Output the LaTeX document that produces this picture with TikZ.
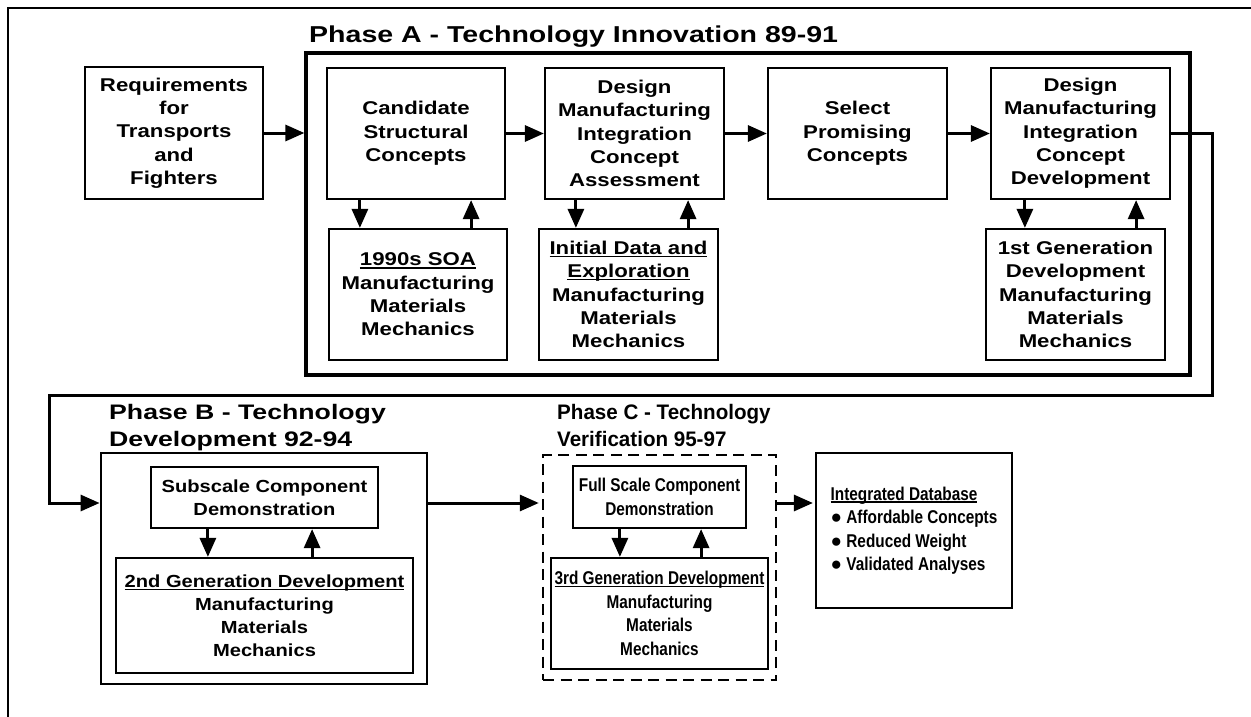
\documentclass[tikz,border=0pt]{standalone}
\usepackage{fontspec}
\setmainfont{Liberation Sans}
\newfontfamily\fA{Liberation Sans}[FakeStretch=1.2]
\newfontfamily\fB{Liberation Sans}[FakeStretch=1.15]
\newfontfamily\fC{Liberation Sans}[FakeStretch=0.83]
\newfontfamily\fTA{Liberation Sans}[FakeStretch=1.24]
\newfontfamily\fTB{Liberation Sans}[FakeStretch=1.27]
\newfontfamily\fTC{Liberation Sans}[FakeStretch=0.98]
\newfontfamily\fBul{Liberation Sans}
\usetikzlibrary{arrows.meta,calc}
\newcommand\ulx[1]{\setbox0\hbox{#1}\rlap{\rule[-2.6pt]{\wd0}{1.2pt}}\box0}
\newcommand\bul{{\fBul\fontsize{19}{19}\selectfont ●}}
\newcommand\pairarrows[4]{%
  \path (#1.south west) ++(#3,0) coordinate (#1d);
  \draw[arr] (#1d) -- (#1d |- #2.north);
  \path (#1.south east) ++(-#4,0) coordinate (#1u);
  \draw[arr] (#1u |- #2.north) -- (#1u);}
\tikzset{
  box/.style={draw, line width=2.2pt, inner sep=0pt, align=center},
  bigbox/.style={draw, line width=3.2pt, inner sep=0pt},
  arr/.style={line width=3pt, -{Triangle[length=19pt,width=16pt]}},
  fa/.style={font=\fA\bfseries\fontsize{18.5}{23.3}\selectfont},
  fb/.style={font=\fB\bfseries\fontsize{17.5}{23}\selectfont},
  fc/.style={font=\fC\bfseries\fontsize{18.5}{23.5}\selectfont},
  title/.style={inner sep=0pt, align=left},
}
\begin{document}
\begin{tikzpicture}[x=1pt,y=-1pt]
\useasboundingbox (0,0) rectangle (1251,717);
% outer frame
\draw[line width=2pt] (1251,8) -- (8,8) -- (8,717);

% Phase A
\node[title, anchor=base west, font=\fTA\bfseries\fontsize{23}{27}\selectfont] (tA) at (309,43) {Phase A - Technology Innovation 89-91};
\node[bigbox, minimum width=884, minimum height=322] (phA) at (748,214) {};
\node[box, fa, minimum width=178, minimum height=132] (req) at (174,133) {Requirements\\for\\Transports\\and\\Fighters};
\node[box, fa, minimum width=178, minimum height=131] (cand) at (416,133.5) {Candidate\\Structural\\Concepts};
\node[box, fa, minimum width=179, minimum height=131] (dmia) at (634.5,133.5) {Design\\Manufacturing\\Integration\\Concept\\Assessment};
\node[box, fa, minimum width=179, minimum height=131] (sel) at (857.5,133.5) {Select\\Promising\\Concepts};
\node[box, fa, minimum width=179, minimum height=131] (dmid) at (1080.5,133.5) {Design\\Manufacturing\\Integration\\Concept\\Development};
\node[box, fa, minimum width=178, minimum height=131] (soa) at (418,294.5) {\ulx{1990s SOA}\\Manufacturing\\Materials\\Mechanics};
\node[box, fa, minimum width=179, minimum height=131] (init) at (628.5,294.5) {\ulx{Initial Data and}\\\ulx{Exploration}\\Manufacturing\\Materials\\Mechanics};
\node[box, fa, minimum width=179, minimum height=131] (gen1) at (1075.5,294.5) {1st Generation\\Development\\Manufacturing\\Materials\\Mechanics};

\draw[arr] (req.east) -- (phA.west |- req.east);
\draw[arr] (cand.east) -- (dmia.west);
\draw[arr] (dmia.east) -- (sel.west);
\draw[arr] (sel.east) -- (dmid.west);
\pairarrows{cand}{soa}{34}{35}
\pairarrows{dmia}{init}{32}{37}
\pairarrows{dmid}{gen1}{35}{35}

% Phase B
\node[title, anchor=north west, font=\fTB\bfseries\fontsize{21}{27}\selectfont] (tB) at (109,404.5) {Phase B - Technology\\Development 92-94};
\node[bigbox, line width=2.8pt, minimum width=326, minimum height=231] (phB) at (264,568.5) {};
\node[box, fb, minimum width=227, minimum height=61] (sub) at (264.5,497.5) {Subscale Component\\Demonstration};
\node[box, fb, minimum width=297, minimum height=115] (gen2) at (264.5,615.5) {\ulx{2nd Generation Development}\\Manufacturing\\Materials\\Mechanics};
\pairarrows{sub}{gen2}{58}{67}

% Phase C
\node[title, anchor=north west, font=\fTC\bfseries\fontsize{21}{27}\selectfont] (tC) at (557,404.5) {Phase C - Technology\\Verification 95-97};
\node[draw, line width=2.4pt, dash pattern=on 11pt off 6.5pt, inner sep=0pt, minimum width=233, minimum height=225] (phC) at (659.5,567.5) {};
\node[box, fc, minimum width=173, minimum height=62] (full) at (659.5,497) {Full Scale Component\\Demonstration};
\node[box, fc, minimum width=217, minimum height=111] (gen3) at (659.5,613.5) {\ulx{3rd Generation Development}\\Manufacturing\\Materials\\Mechanics};
\pairarrows{full}{gen3}{48}{46}

% Integrated database
\node[box, fc, align=left, minimum width=196, minimum height=155] (db) at (914,530.5) {\ulx{Integrated Database}\\\bul\ Affordable Concepts\\\bul\ Reduced Weight\\\bul\ Validated Analyses};

% connectors between phases
\coordinate (mid) at (0,503);
\coordinate (k1) at (1212,395);
\coordinate (k2) at (49,395);
\draw[arr] (dmid.east) -| (k1) -- (k2) |- (phB.west |- mid);
\draw[arr, shorten >=3pt] (phB.east |- mid) -- (phC.west |- mid);
\draw[arr, shorten >=2pt] (phC.east |- mid) -- (db.west |- mid);
\end{tikzpicture}
\end{document}
